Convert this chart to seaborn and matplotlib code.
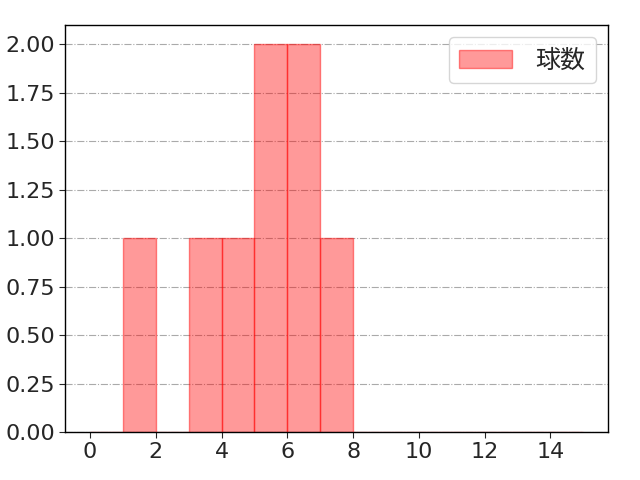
import matplotlib
matplotlib.use("Agg")
import matplotlib.pyplot as plt
from matplotlib.ticker import FormatStrFormatter
import seaborn as sns

values = [1, 3, 4, 5, 5, 6, 6, 7]
bin_edges = list(range(0, 16))
label = "球数"

sns.set_style("white")
plt.rcParams['font.family'] = ['DejaVu Sans', 'Noto Sans CJK JP']

fig, ax = plt.subplots(figsize=(6.4, 4.8), dpi=100)
fig.subplots_adjust(left=0.102, right=0.95, top=0.948, bottom=0.1)

sns.histplot(
    x=values,
    bins=bin_edges,
    color="red",
    alpha=0.4,
    edgecolor=(1, 0, 0, 0.45),
    linewidth=1,
    label=label,
    ax=ax,
)
ax.set_xlim(-0.75, 15.75)
ax.set_ylim(0, 2.1)
ax.set_xticks(range(0, 15, 2))
ax.set_yticks([0, 0.25, 0.5, 0.75, 1.0, 1.25, 1.5, 1.75, 2.0])
ax.yaxis.set_major_formatter(FormatStrFormatter('%.2f'))
ax.set_xlabel("")
ax.set_ylabel("")
ax.tick_params(labelsize=16, left=True, bottom=True, length=4)
ax.grid(axis='y', linestyle='-.', color='#aaaaaa', linewidth=0.8)
ax.set_axisbelow(True)
for s in ax.spines.values():
    s.set_color("black")
    s.set_linewidth(1)

ax.legend(prop={'family': ['Noto Sans CJK JP'], 'size': 18},
          handletextpad=0.95, handlelength=2.1,
          handleheight=0.75, loc="upper right")

plt.savefig("out.png")
